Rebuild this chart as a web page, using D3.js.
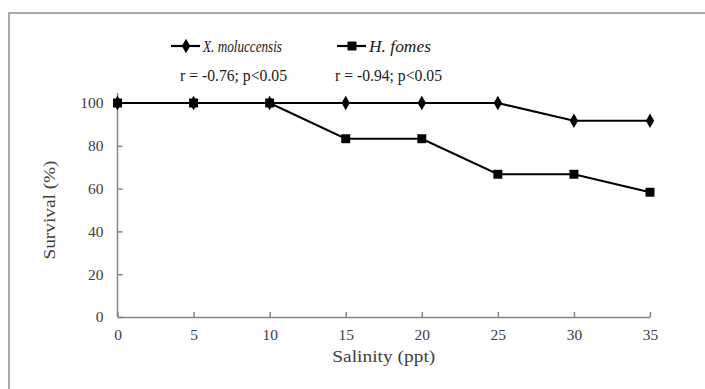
<!DOCTYPE html>
<html>
<head>
<meta charset="utf-8">
<script src="https://cdn.jsdelivr.net/npm/d3@7"></script>
<style>
  body { margin: 0; background: #fff; }
</style>
</head>
<body>
<svg width="705" height="389"></svg>
<script>
const salinity = [0, 5, 10, 15, 20, 25, 30, 35];
const xMoluccensis = [100, 100, 100, 100, 100, 100, 91.7, 91.7];
const hFomes = [100, 100, 100, 83.3, 83.3, 66.7, 66.7, 58.3];
const yTicks = [0, 20, 40, 60, 80, 100];
const seriesNames = ["X. moluccensis", "H. fomes"];
const stats = ["r = -0.76; p<0.05", "r = -0.94; p<0.05"];

const serif = '"Liberation Serif", "DejaVu Serif"';
const svg = d3.select("svg");

// outer frame, runs off the right and bottom edges like the original crop
svg.append("rect")
  .attr("x", 9).attr("y", 13)
  .attr("width", 710).attr("height", 400)
  .attr("fill", "none")
  .attr("stroke", "#8c8c8c")
  .attr("stroke-width", 1.5);

let x = d3.scaleLinear().domain([0, 35]).range([117.5, 650]);
let y = d3.scaleLinear().domain([0, 100]).range([317, 103]);

let xAxis = svg.append("g")
  .attr("transform", `translate(0,${y(0)})`)
  .call(d3.axisBottom(x).tickValues(salinity).tickSizeInner(-5).tickSizeOuter(0).tickPadding(12));

let yAxis = svg.append("g")
  .attr("transform", `translate(${x(0)},0)`)
  .call(d3.axisLeft(y).tickValues(yTicks).tickSizeInner(-5).tickSizeOuter(0).tickPadding(13));

// y axis line runs a little past 100
yAxis.select(".domain").attr("d", `M0,${y(0)}V${y(100) - 10}`);

[xAxis, yAxis].forEach((g) => {
  g.select(".domain").attr("stroke", "#868686").attr("stroke-width", 1.5);
  g.selectAll(".tick line").attr("stroke", "#868686").attr("stroke-width", 1.5);
  g.selectAll(".tick text")
    .style("font-family", serif)
    .style("font-size", "15.5px")
    .attr("fill", "#404040");
});
yAxis.selectAll(".tick text").attr("x", -14);

svg.append("text")
  .attr("x", (x(0) + x(35)) / 2).attr("y", 362)
  .attr("text-anchor", "middle")
  .attr("textLength", 103).attr("lengthAdjust", "spacingAndGlyphs")
  .style("font-family", serif)
  .style("font-size", "17px")
  .attr("fill", "#404040")
  .text("Salinity (ppt)");

svg.append("text")
  .attr("transform", `translate(55,${(y(0) + y(100)) / 2}) rotate(-90)`)
  .attr("text-anchor", "middle")
  .attr("textLength", 99).attr("lengthAdjust", "spacingAndGlyphs")
  .style("font-family", serif)
  .style("font-size", "17px")
  .attr("fill", "#404040")
  .text("Survival (%)");

let line = d3.line().x((d, i) => x(salinity[i])).y((d) => y(d));

const symbols = [
  d3.symbol().type(d3.symbolDiamond).size(60),
  d3.symbol().type(d3.symbolSquare).size(80),
];

[xMoluccensis, hFomes].forEach((vals, s) => {
  svg.append("path")
    .datum(vals)
    .attr("d", line)
    .attr("fill", "none")
    .attr("stroke", "#000")
    .attr("stroke-width", 2.2);
  svg.selectAll(".m" + s)
    .data(vals)
    .enter()
    .append("path")
    .attr("class", "m" + s)
    .attr("transform", (d, i) => `translate(${x(salinity[i])},${y(d)})`)
    .attr("d", symbols[s])
    .attr("fill", "#000");
});

// legend
const legendX = [171, 337];
const legendW = [79, 62];
seriesNames.forEach((name, s) => {
  let lx = legendX[s];
  svg.append("line")
    .attr("x1", lx).attr("x2", lx + 29)
    .attr("y1", 46).attr("y2", 46)
    .attr("stroke", "#000").attr("stroke-width", 2.2);
  svg.append("path")
    .attr("transform", `translate(${lx + 15},46)`)
    .attr("d", symbols[s])
    .attr("fill", "#000");
  svg.append("text")
    .attr("x", lx + 32).attr("y", 52)
    .attr("textLength", legendW[s]).attr("lengthAdjust", "spacingAndGlyphs")
    .style("font-family", serif)
    .style("font-size", "17px")
    .style("font-style", "italic")
    .attr("fill", "#1a1a1a")
    .text(name);
});

const statX = [180, 335];
stats.forEach((t, s) => {
  svg.append("text")
    .attr("x", statX[s]).attr("y", 81)
    .attr("textLength", 107).attr("lengthAdjust", "spacingAndGlyphs")
    .style("font-family", serif)
    .style("font-size", "17px")
    .attr("fill", "#1a1a1a")
    .text(t);
});
</script>
</body>
</html>
